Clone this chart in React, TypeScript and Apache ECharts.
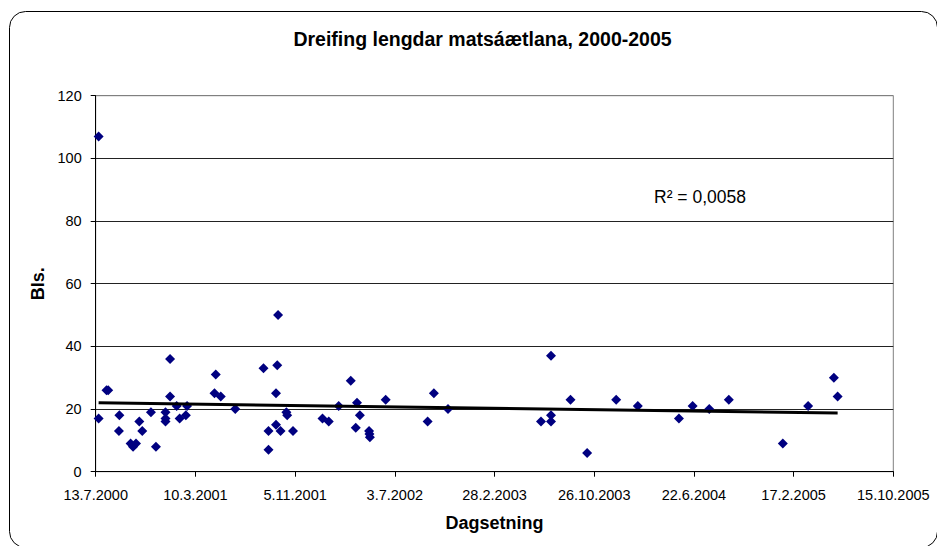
import React, { useEffect, useRef } from "react";
import * as echarts from "echarts";

const TITLE = "Dreifing lengdar matsáætlana, 2000-2005";
const X_NAME = "Dagsetning";
const Y_NAME = "Bls.";
const R2_LABEL = "R² = 0,0058";

const AXIS_START = "13.7.2000";
const AXIS_DAYS_MAX = 1920;
const AXIS_DAYS_STEP = 240;
const Y_MAX = 120;
const Y_STEP = 20;

const dates = [
  "20.7.2000", "20.7.2000", "8.8.2000", "12.8.2000", "7.9.2000", "8.9.2000", "5.10.2000", "11.10.2000", "18.10.2000", "26.10.2000",
  "2.11.2000", "23.11.2000", "5.12.2000", "28.12.2000", "28.12.2000", "28.12.2000", "8.1.2001", "8.1.2001", "24.1.2001", "31.1.2001",
  "15.2.2001", "18.2.2001", "25.4.2001", "28.4.2001", "10.5.2001", "14.6.2001", "21.8.2001", "2.9.2001", "2.9.2001", "20.9.2001",
  "20.9.2001", "23.9.2001", "25.9.2001", "1.10.2001", "15.10.2001", "17.10.2001", "31.10.2001", "10.1.2002", "25.1.2002", "18.2.2002",
  "19.3.2002", "31.3.2002", "3.4.2002", "10.4.2002", "2.5.2002", "3.5.2002", "4.5.2002", "11.6.2002", "20.9.2002", "5.10.2002",
  "8.11.2002", "20.6.2003", "14.7.2003", "14.7.2003", "14.7.2003", "30.8.2003", "9.10.2003", "18.12.2003", "8.2.2004", "17.5.2004",
  "19.6.2004", "29.7.2004", "14.9.2004", "22.1.2005", "24.3.2005", "25.5.2005", "3.6.2005",
];

const pages = [
  107, 17, 26, 26, 13, 18, 9, 8, 9, 16,
  13, 19, 8, 19, 17, 16, 36, 24, 21, 17,
  18, 21, 25, 31, 24, 20, 33, 13, 7, 25,
  15, 34, 50, 13, 19, 18, 13, 17, 16, 21,
  29, 14, 22, 18, 13, 12, 11, 23, 16, 25,
  20, 16, 37, 18, 16, 23, 6, 23, 21, 17,
  21, 20, 23, 9, 21, 30, 24,
];

const DAY_MS = 86400000;
const parseDate = (s: string) => {
  const [d, m, y] = s.split(".").map(Number);
  return Date.UTC(y, m - 1, d);
};
const BASE = parseDate(AXIS_START);
const toDay = (s: string) => Math.round((parseDate(s) - BASE) / DAY_MS);
const fmtDay = (v: number) => {
  const d = new Date(BASE + v * DAY_MS);
  return `${d.getUTCDate()}.${d.getUTCMonth() + 1}.${d.getUTCFullYear()}`;
};

export default function App() {
  const ref = useRef<HTMLDivElement>(null);
  useEffect(() => {
    if (!ref.current) return;
    const chart = echarts.init(ref.current, undefined, { renderer: "svg" });
    const pts = dates.map((d, i) => [toDay(d), pages[i]]);
    const n = pts.length;
    const mx = pts.reduce((a, p) => a + p[0], 0) / n;
    const my = pts.reduce((a, p) => a + p[1], 0) / n;
    let sxy = 0, sxx = 0;
    pts.forEach((p) => {
      sxy += (p[0] - mx) * (p[1] - my);
      sxx += (p[0] - mx) * (p[0] - mx);
    });
    const slope = sxy / sxx;
    const icpt = my - slope * mx;
    const xs = pts.map((p) => p[0]);
    const x0 = Math.min(...xs);
    const x1 = Math.max(...xs);
    const trend = [
      [x0, icpt + slope * x0],
      [x1, icpt + slope * x1],
    ];
    const font = "Liberation Sans, Arial, sans-serif";
    chart.setOption({
      animation: false,
      backgroundColor: "#fff",
      textStyle: { fontFamily: font },
      title: {
        text: TITLE,
        left: 477.5,
        top: 24,
        textAlign: "center",
        textStyle: { fontSize: 19.5, fontWeight: "bold", color: "#000", fontFamily: font },
      },
      grid: {
        left: 95.7,
        right: 43.7,
        top: 95.7,
        bottom: 74.3,
        show: true,
        borderColor: "#808080",
        borderWidth: 1,
        containLabel: false,
        outerBoundsMode: "none",
      },
      xAxis: {
        type: "value",
        min: 0,
        max: AXIS_DAYS_MAX,
        interval: AXIS_DAYS_STEP,
        name: X_NAME,
        nameLocation: "middle",
        nameGap: 42,
        nameTextStyle: { fontSize: 18, fontWeight: "bold", color: "#000", fontFamily: font },
        axisLine: { show: true, onZero: false, lineStyle: { color: "#000", width: 1 } },
        axisTick: { show: true, inside: false, length: 5, lineStyle: { color: "#000" } },
        axisLabel: { formatter: (v: number) => fmtDay(v), fontSize: 14.5, color: "#000", margin: 16, fontFamily: font },
        splitLine: { show: false },
      },
      yAxis: {
        type: "value",
        min: 0,
        max: Y_MAX,
        interval: Y_STEP,
        name: Y_NAME,
        nameLocation: "middle",
        nameGap: 48,
        nameTextStyle: { fontSize: 18, fontWeight: "bold", color: "#000", fontFamily: font },
        axisLine: { show: true, lineStyle: { color: "#000", width: 1 } },
        axisTick: { show: true, inside: false, length: 5, lineStyle: { color: "#000" } },
        axisLabel: { fontSize: 14.5, color: "#000", margin: 14, fontFamily: font },
        splitLine: {
          show: true,
          lineStyle: { color: ["#000", "#222", "#222", "#222", "#222", "#222", "#808080"], width: 1 },
        },
      },
      series: [
        {
          type: "scatter",
          data: pts,
          symbol: "diamond",
          symbolSize: 10,
          itemStyle: { color: "#000080", opacity: 1 },
          z: 3,
        },
        {
          type: "line",
          data: trend,
          showSymbol: false,
          symbol: "none",
          lineStyle: { color: "#000", width: 3 },
          z: 4,
        },
      ],
      graphic: [
        {
          type: "rect",
          shape: { x: 9.5, y: 11.5, width: 928, height: 536, r: 16 },
          style: { fill: "none", stroke: "#000", lineWidth: 1 },
          silent: true,
          z: 100,
        },
        {
          type: "text",
          x: 654,
          y: 188,
          style: { text: R2_LABEL, fontSize: 17.5, fill: "#000", fontFamily: font },
          silent: true,
          z: 100,
        },
      ],
    });
    return () => chart.dispose();
  }, []);
  return (
    <div
      ref={ref}
      style={{ position: "fixed", left: 0, top: 0, width: 937, height: 546, background: "#fff" }}
    />
  );
}
